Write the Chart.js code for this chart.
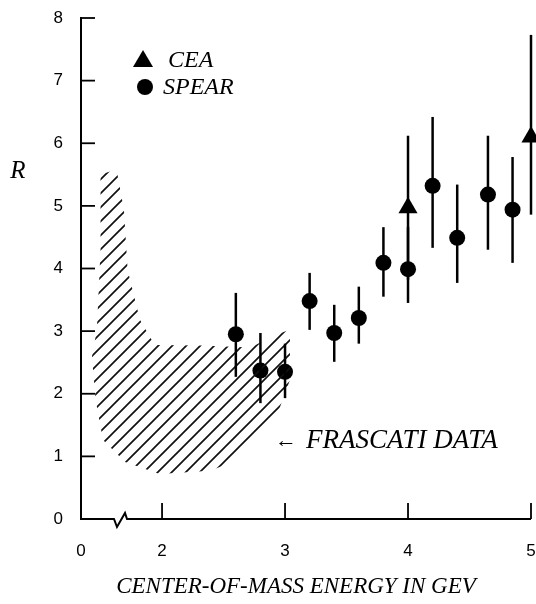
<!DOCTYPE html>
<html>
<head>
<meta charset="utf-8">
<title>R vs centre-of-mass energy</title>
<script src="https://cdn.jsdelivr.net/npm/chart.js@4.4.1/dist/chart.umd.min.js"></script>
<style>
  html, body { margin: 0; padding: 0; background: #fff; }
  #wrap { width: 536px; height: 604px; position: relative; }
</style>
</head>
<body>
<div id="wrap"><canvas id="rChart"></canvas></div>
<script>
// SPEAR points (energy in GeV, R with error bar ends)
const energySpear = [2.6, 2.8, 3.0, 3.2, 3.4, 3.6, 3.8, 4.0, 4.2, 4.4, 4.65, 4.85];
const rSpear      = [2.95, 2.37, 2.35, 3.48, 2.97, 3.21, 4.09, 3.99, 5.32, 4.49, 5.18, 4.94];
const rSpearLow   = [2.27, 1.85, 1.93, 3.02, 2.51, 2.80, 3.55, 3.45, 4.33, 3.77, 4.30, 4.09];
const rSpearHigh  = [3.61, 2.97, 2.80, 3.93, 3.42, 3.71, 4.66, 4.66, 6.42, 5.34, 6.12, 5.78];

// CEA points
const energyCea = [4.0, 5.0];
const rCea      = [4.97, 6.10];
const rCeaLow   = [3.82, 4.86];
const rCeaHigh  = [6.12, 7.73];

// outline of the hatched Frascati band
const frascatiEnergy = [1.50, 1.63, 1.69, 1.72, 1.82, 1.94, 2.31, 2.72, 2.92, 3.04, 3.04, 2.92,
                        2.76, 2.61, 2.39, 1.98, 1.70, 1.52, 1.46, 1.43, 1.47, 1.50, 1.50];
const frascatiR      = [5.50, 5.58, 4.94, 3.98, 3.18, 2.78, 2.77, 2.74, 2.94, 3.02, 2.22, 1.58,
                        1.23, 0.94, 0.77, 0.72, 0.91, 1.26, 1.90, 2.59, 3.02, 4.30, 5.50];

// axes (x axis is broken: its start is labelled 0)
const xStart = 1.341;
const xEnd = 5;
const xTickValues = [xStart, 2, 3, 4, 5];
const yTickValues = [0, 1, 2, 3, 4, 5, 6, 7, 8];

const serif = '"Liberation Serif", "DejaVu Serif", serif';
const sans = '"Liberation Sans", Arial, sans-serif';

function makeHatch() {
    const s = 14;
    const c = document.createElement('canvas');
    c.width = s; c.height = s;
    const g = c.getContext('2d');
    g.strokeStyle = '#111';
    g.lineWidth = 1.7;
    g.beginPath();
    g.moveTo(-2, s + 2); g.lineTo(s + 2, -2);
    g.moveTo(-2, 2); g.lineTo(2, -2);
    g.moveTo(s - 2, s + 2); g.lineTo(s + 2, s - 2);
    g.stroke();
    return g.createPattern(c, 'repeat');
}

// no extra room for the end tick labels, so the plot area stays where it is
function noLabelPadding(s) {
    s.paddingTop = 0;
    s.paddingBottom = 0;
    s.paddingLeft = 0;
    s.paddingRight = 0;
}

const paperPlugin = {
    id: 'paper',
    afterDatasetsDraw(chart) {
        const { ctx, scales: { x, y } } = chart;
        ctx.save();
        ctx.strokeStyle = '#000';
        ctx.lineWidth = 2.5;
        const bars = (xs, lo, hi) => {
            xs.forEach((e, i) => {
                const px = x.getPixelForValue(e);
                ctx.beginPath();
                ctx.moveTo(px, y.getPixelForValue(lo[i]));
                ctx.lineTo(px, y.getPixelForValue(hi[i]));
                ctx.stroke();
            });
        };
        bars(energySpear, rSpearLow, rSpearHigh);
        bars(energyCea, rCeaLow, rCeaHigh);
        ctx.restore();
    },
    afterDraw(chart) {
        const { ctx, chartArea: a, scales: { x, y } } = chart;
        const b = a.bottom;
        ctx.save();
        ctx.strokeStyle = '#000';
        ctx.fillStyle = '#000';

        // x axis with the break mark
        ctx.lineWidth = 2;
        ctx.beginPath();
        ctx.moveTo(a.left, b);
        ctx.lineTo(a.left + 33, b);
        ctx.lineTo(a.left + 36, b + 8);
        ctx.lineTo(a.left + 44, b - 6);
        ctx.lineTo(a.left + 46, b);
        ctx.lineTo(a.right, b);
        ctx.stroke();

        // inward tick marks
        ctx.lineWidth = 1.8;
        yTickValues.slice(1).forEach(v => {
            const py = y.getPixelForValue(v);
            ctx.beginPath();
            ctx.moveTo(a.left, py);
            ctx.lineTo(a.left + 14, py);
            ctx.stroke();
        });
        xTickValues.slice(1).forEach(v => {
            const px = x.getPixelForValue(v);
            ctx.beginPath();
            ctx.moveTo(px, b);
            ctx.lineTo(px, b - 16);
            ctx.stroke();
        });

        // R label
        ctx.textBaseline = 'middle';
        ctx.textAlign = 'center';
        ctx.font = 'italic 25px ' + serif;
        ctx.fillText('R', 18, 171);

        // legend
        ctx.beginPath();
        ctx.moveTo(143, 50);
        ctx.lineTo(153, 67);
        ctx.lineTo(133, 67);
        ctx.closePath();
        ctx.fill();
        ctx.beginPath();
        ctx.arc(145, 87, 8, 0, Math.PI * 2);
        ctx.fill();
        ctx.textAlign = 'left';
        ctx.font = 'italic 24px ' + serif;
        ctx.fillText('CEA', 168, 61);
        ctx.fillText('SPEAR', 163, 88);

        // annotation
        ctx.font = '22px ' + serif;
        ctx.fillText('\u2190', 275, 441);
        ctx.font = 'italic 27px ' + serif;
        ctx.fillText('FRASCATI DATA', 306, 441);

        // x title
        ctx.textAlign = 'center';
        ctx.font = 'italic 23px ' + serif;
        ctx.fillText('CENTER-OF-MASS ENERGY IN GEV', 296, 587);
        ctx.restore();
    }
};

new Chart(document.getElementById('rChart'), {
    type: 'scatter',
    data: {
        datasets: [
            {
                label: 'Frascati',
                data: frascatiEnergy.map((e, i) => ({ x: e, y: frascatiR[i] })),
                showLine: true,
                fill: 'shape',
                backgroundColor: makeHatch(),
                borderWidth: 0,
                borderColor: 'rgba(0,0,0,0)',
                pointRadius: 0,
                tension: 0
            },
            {
                label: 'SPEAR',
                data: energySpear.map((e, i) => ({ x: e, y: rSpear[i] })),
                pointStyle: 'circle',
                pointRadius: 8,
                backgroundColor: '#000',
                borderColor: '#000',
                borderWidth: 0
            },
            {
                label: 'CEA',
                data: energyCea.map((e, i) => ({ x: e, y: rCea[i] })),
                pointStyle: 'triangle',
                pointRadius: 11,
                backgroundColor: '#000',
                borderColor: '#000',
                borderWidth: 0,
                clip: false
            }
        ]
    },
    options: {
        responsive: true,
        maintainAspectRatio: false,
        animation: false,
        layout: { autoPadding: false, padding: { top: 18, right: 5, left: 0, bottom: 0 } },
        plugins: {
            legend: { display: false },
            tooltip: { enabled: false }
        },
        scales: {
            x: {
                type: 'linear',
                min: xStart,
                max: xEnd,
                afterFit: s => { s.height = 85; noLabelPadding(s); },
                afterBuildTicks: s => { s.ticks = xTickValues.map(v => ({ value: v })); },
                grid: { display: false, drawTicks: false },
                border: { display: false },
                ticks: {
                    padding: 22,
                    color: '#000',
                    font: { family: sans, size: 17 },
                    callback: v => (v === xStart ? '0' : String(v))
                }
            },
            y: {
                min: 0,
                max: 8,
                afterFit: s => { s.width = 81; noLabelPadding(s); },
                afterBuildTicks: s => { s.ticks = yTickValues.map(v => ({ value: v })); },
                grid: { display: false, drawTicks: false },
                border: { display: true, color: '#000', width: 2 },
                ticks: {
                    padding: 18,
                    color: '#000',
                    font: { family: sans, size: 17 }
                }
            }
        }
    },
    plugins: [paperPlugin]
});
</script>
</body>
</html>
